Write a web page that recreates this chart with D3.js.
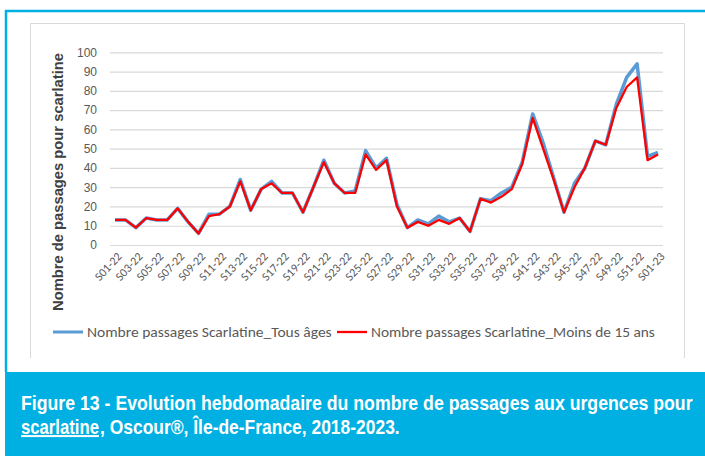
<!DOCTYPE html>
<html>
<head>
<meta charset="utf-8">
<script src="https://cdn.jsdelivr.net/npm/d3@7"></script>
<style>
  body { margin: 0; background: #fff; }
  svg { display: block; }
</style>
</head>
<body>
<div class="chart"></div>
<script>
// weeks S01-22 .. S01-23
var weeks = ["S01-22","S02-22","S03-22","S04-22","S05-22","S06-22","S07-22","S08-22","S09-22","S10-22",
  "S11-22","S12-22","S13-22","S14-22","S15-22","S16-22","S17-22","S18-22","S19-22","S20-22",
  "S21-22","S22-22","S23-22","S24-22","S25-22","S26-22","S27-22","S28-22","S29-22","S30-22",
  "S31-22","S32-22","S33-22","S34-22","S35-22","S36-22","S37-22","S38-22","S39-22","S40-22",
  "S41-22","S42-22","S43-22","S44-22","S45-22","S46-22","S47-22","S48-22","S49-22","S50-22",
  "S51-22","S52-22","S01-23"];

var tousAges = [13,13,9,14,13,13,19,12,6,16, 16,20,34,18,29,33,27,27,17,30,
  44,32,27,28,49,40,45,21,9,13, 11,15,12,14,7,24,23,27,30,43,
  68,53,35,17,32,40,54,52,73,87, 94,46,48];

var moins15 = [13,13,9,14,13,13,19,12,6,15, 16,20,33,18,29,32,27,27,17,30,
  43,32,27,27,47,39,44,20,9,12, 10,13,11,14,7,24,22,25,29,42,
  66,50,34,17,30,40,54,52,71,82, 87,44,47];

var yTicks = [0,10,20,30,40,50,60,70,80,90,100];

var seriesNames = ["Nombre passages Scarlatine_Tous âges", "Nombre passages Scarlatine_Moins de 15 ans"];
var seriesColors = ["#5B9BD5", "#FF0000"];

var width = 705, height = 456;
var cyan = "#00B0E2";
var grey = "#595959";

var svg = d3.select(".chart").append("svg")
  .attr("width", width)
  .attr("height", height);

// scale a text horizontally so it is `w` px wide, starting at (x, y)
function fitText(parent, str, x, y, w) {
  var g = parent.append("g");
  var t = g.append("text").text(str);
  var k = w / t.node().getComputedTextLength();
  g.attr("transform", "translate(" + x + "," + y + ") scale(" + k + ",1)");
  return t;
}

// outer frame + caption band
svg.append("line")
  .attr("x1", 5).attr("x2", width).attr("y1", 11).attr("y2", 11)
  .attr("stroke", cyan).attr("stroke-width", 2.5);
svg.append("line")
  .attr("x1", 6).attr("x2", 6).attr("y1", 10).attr("y2", 372)
  .attr("stroke", cyan).attr("stroke-width", 2.5);
svg.append("rect")
  .attr("x", 5).attr("y", 372).attr("width", width - 5).attr("height", height - 372)
  .attr("fill", cyan);

// chart area border (light grey, open at the bottom)
svg.append("path")
  .attr("d", "M30.5,358 V23.5 H684.5 V358")
  .attr("fill", "none").attr("stroke", "#d9d9d9").attr("stroke-width", 1);

// scales
var x = d3.scalePoint()
  .domain(weeks)
  .range([115, 658]);

var y = d3.scaleLinear()
  .domain([0, 100])
  .range([245, 52.3]);

// y axis with gridlines
var yAxis = d3.axisLeft(y)
  .tickValues(yTicks)
  .tickSize(-(663 - 110))
  .tickPadding(13);

var yG = svg.append("g")
  .attr("transform", "translate(110,0)")
  .call(yAxis);
yG.select(".domain").remove();
yG.selectAll(".tick line").attr("stroke", "#d9d9d9").attr("stroke-width", 1.2);
yG.selectAll(".tick text")
  .attr("fill", grey)
  .attr("font-family", "Liberation Sans, Arial, sans-serif")
  .attr("font-size", "12px");

// x axis: every second week labelled, rotated
var xAxis = d3.axisBottom(x)
  .tickValues(weeks.filter(function(d, i) { return i % 2 === 0; }))
  .tickSize(0)
  .tickPadding(0);

var xG = svg.append("g")
  .attr("transform", "translate(0,245)")
  .call(xAxis);
xG.select(".domain").remove();
xG.selectAll(".tick text")
  .attr("fill", grey)
  .attr("font-family", "Carlito, Liberation Sans, Arial, sans-serif")
  .attr("font-size", "12px")
  .attr("text-anchor", "end")
  .attr("dy", null)
  .attr("y", 0)
  .attr("transform", "translate(7,12) rotate(-47)");

// y axis title
svg.append("text")
  .text("Nombre de passages pour scarlatine")
  .attr("transform", "translate(63,182) rotate(-90)")
  .attr("text-anchor", "middle")
  .attr("font-family", "Liberation Sans, Arial, sans-serif")
  .attr("font-weight", "bold")
  .attr("font-size", "14.5px")
  .attr("fill", "#404040")
  .attr("textLength", 258)
  .attr("lengthAdjust", "spacingAndGlyphs");

// lines
var line = d3.line()
  .x(function(d, i) { return x(weeks[i]); })
  .y(function(d) { return y(d); });

svg.append("path")
  .datum(tousAges)
  .attr("d", line)
  .attr("fill", "none")
  .attr("stroke", seriesColors[0])
  .attr("stroke-width", 3.5)
  .attr("stroke-linejoin", "round");

svg.append("path")
  .datum(moins15)
  .attr("d", line)
  .attr("fill", "none")
  .attr("stroke", seriesColors[1])
  .attr("stroke-width", 2.3)
  .attr("stroke-linejoin", "round");

// legend
var legend = svg.append("g")
  .attr("font-family", "Carlito, Liberation Sans, Arial, sans-serif")
  .attr("font-size", "14px")
  .attr("fill", grey);
var legendItems = [
  {x1: 53, x2: 83, tx: 87, len: 245},
  {x1: 337, x2: 367, tx: 371, len: 284}
];
legendItems.forEach(function(l, i) {
  legend.append("line")
    .attr("x1", l.x1).attr("x2", l.x2).attr("y1", 332).attr("y2", 332)
    .attr("stroke", seriesColors[i]).attr("stroke-width", i === 0 ? 3 : 2.3);
  fitText(legend, seriesNames[i], l.tx, 337, l.len);
});

// caption
var caption = svg.append("g")
  .attr("font-family", "Liberation Sans Narrow, Liberation Sans, Arial, sans-serif")
  .attr("font-weight", "bold")
  .attr("font-size", "20px")
  .attr("fill", "#fff");

fitText(caption, "Figure 13 - Evolution hebdomadaire du nombre de passages aux urgences pour", 21, 410, 672);
fitText(caption, "scarlatine", 21, 434, 78)
  .attr("text-decoration", "underline");
fitText(caption, ", Oscour®, Île-de-France, 2018-2023.", 100, 434, 300);
</script>
</body>
</html>
